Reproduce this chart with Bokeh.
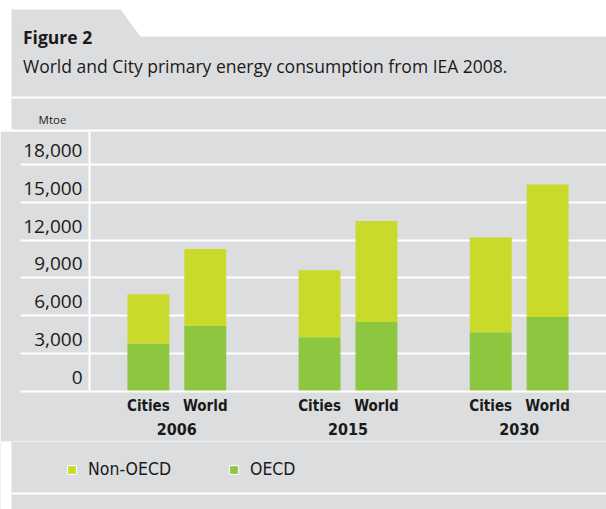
from bokeh.plotting import figure
from bokeh.models import (ColumnDataSource, FactorRange, Range1d, FixedTicker, NumeralTickFormatter,
                          Legend, LegendItem, Label, BoxAnnotation, PolyAnnotation)
from bokeh.layouts import column
from bokeh.embed import file_html
from bokeh.resources import INLINE

# ---- data ----
years = ["2006", "2015", "2030"]
kinds = ["Cities", "World"]
oecd = [3800, 5200, 4300, 5500, 4700, 5900]
non_oecd = [3900, 6100, 5300, 8000, 7500, 10500]
y_ticks = [0, 3000, 6000, 9000, 12000, 15000, 18000]
series_names = ["OECD", "Non-OECD"]
unit_label = "Mtoe"
fig_title = "Figure 2"
fig_subtitle = "World and City primary energy consumption from IEA 2008."

# ---- style ----
GRAY = "#dcdddf"
C_OECD = "#8dc63f"
C_NON = "#c9da2a"
INK = "#1a1a1a"
HUM = "Open Sans"
COND = "DejaVu Sans Condensed, Liberation Sans"
W = 606


def no_align(fig):
    if "frame_align" in fig.properties():
        fig.frame_align = False


def set_if(model, **kw):
    props = model.properties()
    for k, v in kw.items():
        if k in props:
            setattr(model, k, v)


# ---- header ----
HH = 131
head = figure(width=W, height=HH, x_range=Range1d(0, W), y_range=Range1d(HH, 0),
              x_axis_type=None, y_axis_type=None, toolbar_location=None, min_border=0,
              output_backend="svg", background_fill_color="white",
              border_fill_color="white", outline_line_color=None)
no_align(head)
head.add_layout(PolyAnnotation(xs=[11, 120, 140, W, W, 11], ys=[9, 9, 36, 36, 96, 96],
                               fill_color=GRAY, fill_alpha=1, line_color=None))
head.add_layout(BoxAnnotation(left=11, right=W, top=98, bottom=129,
                              fill_color=GRAY, fill_alpha=1, line_color=None))
head.add_layout(Label(x=22.5, y=36.5, text=fig_title, text_font=HUM, text_font_style="bold",
                      text_font_size="17.5px", text_color=INK, text_baseline="alphabetic"))
head.add_layout(Label(x=22.5, y=65.5, text=fig_subtitle, text_font=HUM,
                      text_font_size="17.5px", text_color=INK, text_baseline="alphabetic"))
head.add_layout(Label(x=52, y=119, text=unit_label, text_font=HUM, text_font_size="11.5px",
                      text_color=INK, text_align="center", text_baseline="middle"))

# ---- chart ----
CH = 310
factors = [(y, k) for y in years for k in kinds]
src = ColumnDataSource(data=dict(x=factors, OECD=oecd, NON=non_oecd))
TOP = 20600
D = 1110
p = figure(width=W, height=CH,
           x_range=FactorRange(*factors, factor_padding=0.14, group_padding=1.29,
                               range_padding=0.68, range_padding_units="absolute"),
           y_range=Range1d(0, TOP), toolbar_location=None, output_backend="svg",
           min_border_left=89, min_border_right=0, min_border_top=0, min_border_bottom=50,
           background_fill_color=GRAY, border_fill_color=GRAY, outline_line_color=None)
no_align(p)
set_if(p, frame_width=517, frame_height=260)
p.extra_y_ranges = {"lab": Range1d(-D - 0.5, TOP - D - 0.5)}

rs = p.vbar_stack(["OECD", "NON"], x="x", width=0.84, fill_color=[C_OECD, C_NON],
                  line_color=None, source=src)

p.xgrid.visible = False
p.ygrid.ticker = FixedTicker(ticks=y_ticks)
p.ygrid.grid_line_color = "white"
p.ygrid.grid_line_width = 2

ya = p.yaxis[0]
ya.y_range_name = "lab"
ya.ticker = FixedTicker(ticks=y_ticks, minor_ticks=[t - D for t in y_ticks])
ya.formatter = NumeralTickFormatter(format="0,0")
ya.major_tick_line_color = None
ya.major_tick_out = 0
ya.major_tick_in = 0
ya.minor_tick_out = 69
ya.minor_tick_in = 0
ya.minor_tick_line_color = "white"
ya.minor_tick_line_width = 2
ya.axis_line_color = "white"
ya.axis_line_width = 2
ya.major_label_standoff = -62
ya.major_label_text_font = HUM
ya.major_label_text_font_size = "19px"
ya.major_label_text_color = INK

xa = p.xaxis[0]
xa.axis_line_color = "white"
xa.axis_line_width = 2
xa.major_tick_line_color = None
xa.major_tick_out = 0
xa.major_tick_in = 0
xa.minor_tick_out = 0
xa.minor_tick_in = 0
xa.major_label_standoff = 5
xa.major_label_text_font = COND
xa.major_label_text_font_style = "bold"
xa.major_label_text_font_size = "15px"
xa.major_label_text_color = INK
xa.group_text_font = COND
xa.group_text_font_style = "bold"
xa.group_text_font_size = "16px"
xa.group_text_color = INK
xa.separator_line_color = None

chart_box = column(p, width=W, height=CH, styles={"overflow": "hidden"})

# ---- legend strip + footer ----
FH = 68
foot = figure(width=W, height=FH, x_range=Range1d(0, W), y_range=Range1d(FH, 0),
              x_axis_type=None, y_axis_type=None, toolbar_location=None, min_border=0,
              output_backend="svg", background_fill_color=GRAY,
              border_fill_color=GRAY, outline_line_color=None)
no_align(foot)
foot.add_layout(BoxAnnotation(left=0, right=W, top=51, bottom=53,
                              fill_color="white", fill_alpha=1, line_color=None))
foot.add_layout(BoxAnnotation(left=0, right=11, top=0, bottom=FH,
                              fill_color="white", fill_alpha=1, line_color=None))
# legend keys: zero-height bars outside the visible range, drawn only in the legend
key_non = foot.vbar(x=[-50], bottom=[0], top=[0], width=1, fill_color=C_NON,
                    line_color="white", line_width=1)
key_oecd = foot.vbar(x=[-50], bottom=[0], top=[0], width=1, fill_color=C_OECD,
                     line_color="white", line_width=1)
legend = Legend(items=[LegendItem(label=series_names[1], renderers=[key_non]),
                       LegendItem(label=series_names[0], renderers=[key_oecd])],
                orientation="horizontal", location=(66, 30),
                glyph_width=11, glyph_height=11, label_height=20, label_standoff=11,
                spacing=57, padding=0, margin=0, border_line_color=None,
                background_fill_alpha=0, label_text_font=COND,
                label_text_font_size="17.5px", label_text_color=INK)
set_if(legend, nrows=1, ncols=2)
foot.add_layout(legend)

layout = column(head, chart_box, foot, spacing=0)
open("out.html", "w").write(file_html(layout, INLINE))
